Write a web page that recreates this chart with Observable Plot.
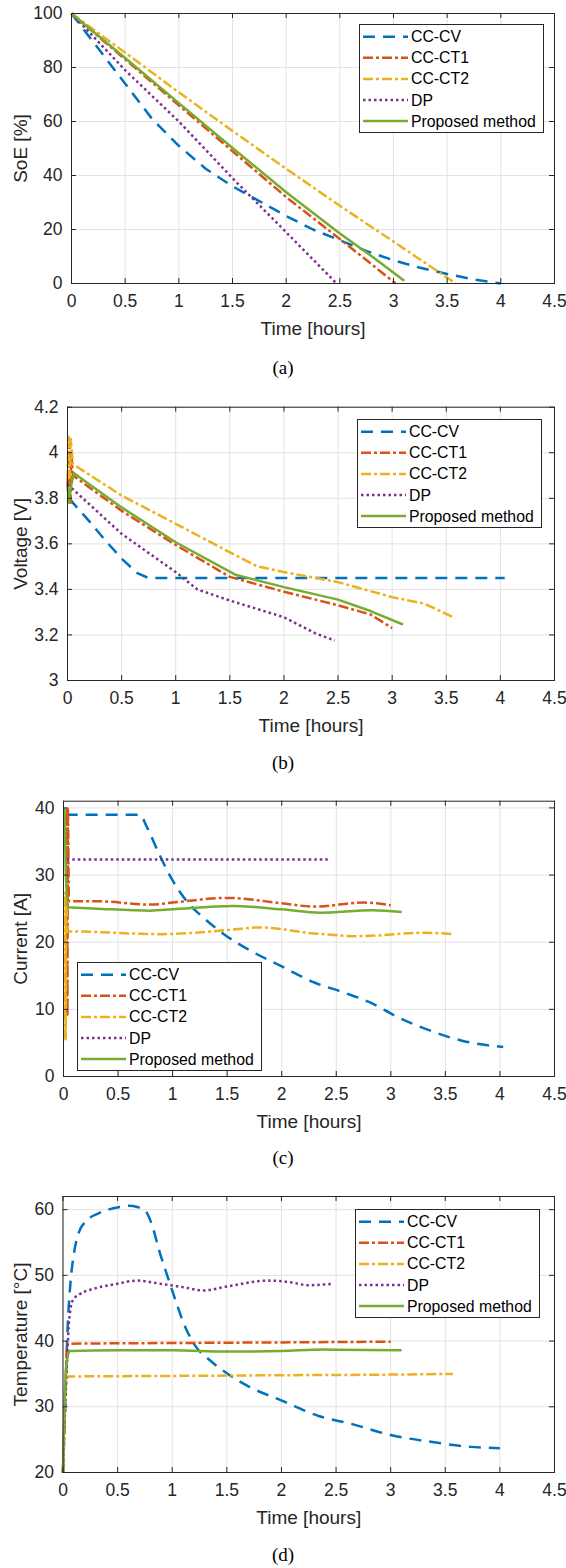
<!DOCTYPE html>
<html><head><meta charset="utf-8">
<script src="https://cdn.jsdelivr.net/npm/d3@7"></script>
<script src="https://cdn.jsdelivr.net/npm/@observablehq/plot@0.6"></script>
<style>
body{margin:0;background:#fff;}
#page{position:relative;width:566px;height:1568px;overflow:hidden;font-family:"Liberation Sans",Arial,sans-serif;}
.panel{position:absolute;left:0;}
.caption{position:absolute;left:0;width:566px;text-align:center;font-family:"Liberation Serif","Times New Roman",serif;font-size:19px;line-height:22px;color:#000;}
.legend{position:absolute;background:#fff;border:1px solid #262626;box-sizing:border-box;}
.legend svg{display:block;}
</style></head><body><div id="page"></div>
<script>
// ---------- shared ----------
const seriesNames = ["CC-CV", "CC-CT1", "CC-CT2", "DP", "Proposed method"];
const xTicks = [0, 0.5, 1, 1.5, 2, 2.5, 3, 3.5, 4, 4.5];

// ---------- (a) SoE [%] ----------
const soeTimes = [
  [0, 0.1, 0.25, 0.5, 0.75, 1, 1.25, 1.5, 1.75, 2, 2.25, 2.5, 2.75, 3, 3.25, 3.5, 3.75, 4],
  [0, 0.5, 1, 1.5, 2, 2.5, 2.8, 3.02],
  [0, 0.5, 1, 1.5, 2, 2.5, 3, 3.58],
  [0, 0.25, 0.5, 1, 1.5, 2, 2.47],
  [0, 0.5, 1, 1.5, 2, 2.5, 2.8, 3.1]
];
const soeValues = [
  [100, 94.8, 87, 74, 61, 51, 42.5, 36, 30.5, 25, 20, 16, 12, 8.6, 5.8, 3.5, 1.5, 0],
  [100, 83, 66, 49, 32, 16.5, 7, 0],
  [100, 85.5, 70.8, 56.5, 42.5, 28.8, 15.5, 0],
  [100, 89.5, 79, 60, 39, 19, 0],
  [100, 83.5, 66.8, 50.2, 33.8, 18.5, 10, 1]
];
const soeTicks = [0, 20, 40, 60, 80, 100];

// ---------- (b) Voltage [V] ----------
const voltTimes = [
  [0.02, 0.05, 0.2, 0.35, 0.5, 0.65, 0.75, 4.04],
  [0, 0.02, 0.03, 0.035, 0.05, 0.5, 1, 1.5, 2, 2.5, 2.8, 3.0],
  [0, 0.01, 0.02, 0.03, 0.05, 0.5, 1, 1.5, 1.75, 2, 2.5, 3, 3.3, 3.58],
  [0, 0.05, 0.5, 1, 1.2, 1.5, 2, 2.3, 2.47],
  [0, 0.015, 0.03, 0.06, 0.5, 1, 1.55, 2, 2.5, 2.8, 3.1]
];
const voltValues = [
  [3.80, 3.78, 3.70, 3.615, 3.535, 3.47, 3.45, 3.45],
  [3.85, 4.04, 3.78, 4.0, 3.90, 3.745, 3.595, 3.455, 3.39, 3.33, 3.29, 3.23],
  [3.88, 4.07, 3.89, 4.06, 3.95, 3.812, 3.688, 3.563, 3.502, 3.476, 3.432, 3.366, 3.337, 3.275],
  [3.86, 3.84, 3.644, 3.476, 3.40, 3.351, 3.278, 3.205, 3.176],
  [3.85, 3.78, 3.85, 3.91, 3.76, 3.607, 3.465, 3.41, 3.355, 3.305, 3.246]
];
const voltTicks = [3, 3.2, 3.4, 3.6, 3.8, 4, 4.2];

// ---------- (c) Current [A] ----------
const currTimes = [
  [0.02, 0.7, 0.76, 0.88, 1, 1.14, 1.28, 1.47, 1.74, 2, 2.3, 2.57, 2.8, 3.07, 3.4, 3.66, 4.03],
  [0.03, 0.033, 0.036, 0.04, 0.05, 0.3, 0.8, 1, 1.5, 2, 2.3, 2.75, 3],
  [0.012, 0.016, 0.02, 0.024, 0.035, 0.05, 0.9, 1.5, 1.8, 2.3, 2.7, 3.3, 3.58],
  [0.03, 0.5, 1, 1.5, 2, 2.45],
  [0.01, 0.02, 0.04, 0.3, 0.8, 1, 1.55, 2, 2.35, 2.83, 3.1]
];
const currValues = [
  [39, 39, 37.3, 33, 29.2, 25.9, 23.7, 21.2, 18.5, 16.4, 14, 12.5, 11.1, 8.8, 6.6, 5.3, 4.4],
  [9, 40, 9, 40, 26.1, 26.1, 25.6, 25.9, 26.6, 25.8, 25.3, 25.9, 25.5],
  [5.5, 27.4, 5.5, 27.4, 21.6, 21.6, 21.2, 21.8, 22.2, 21.3, 20.9, 21.4, 21.2],
  [32.3, 32.3, 32.3, 32.3, 32.3, 32.3],
  [40, 31, 25.2, 25.0, 24.7, 24.9, 25.4, 24.9, 24.4, 24.75, 24.5]
];
const currTicks = [0, 10, 20, 30, 40];

// ---------- (d) Temperature [°C] ----------
const tempTimes = [
  [0, 0.02, 0.04, 0.07, 0.1, 0.14, 0.22, 0.32, 0.52, 0.6, 0.68, 0.75, 0.82, 0.88, 0.95, 1.02, 1.12, 1.21, 1.35, 1.51, 1.71, 2.01, 2.34, 2.64, 3, 3.4, 3.73, 4],
  [0, 0.02, 0.04, 1, 2, 3],
  [0, 0.015, 0.03, 1, 2, 3, 3.57],
  [0, 0.02, 0.04, 0.056, 0.09, 0.16, 0.29, 0.49, 0.68, 0.9, 1.1, 1.28, 1.5, 1.88, 2.1, 2.24, 2.46],
  [0, 0.01, 0.03, 0.06, 0.5, 1, 1.5, 2, 2.4, 3.1]
];
const tempValues = [
  [20, 30, 41, 49.2, 53.3, 56.3, 58.4, 59.4, 60.4, 60.6, 60.4, 59.9, 57.4, 53.8, 50.2, 46.7, 42.1, 39.3, 37, 35, 33, 30.9, 28.6, 27.4, 25.7, 24.6, 23.9, 23.7],
  [20, 32, 39.6, 39.7, 39.8, 39.9],
  [20, 28, 34.6, 34.7, 34.8, 34.9, 35],
  [20, 30, 38, 43.1, 46.2, 47.2, 48, 48.7, 49.2, 48.7, 48.2, 47.7, 48.3, 49.2, 48.9, 48.5, 48.7],
  [20, 28, 36, 38.5, 38.6, 38.6, 38.4, 38.5, 38.7, 38.6]
];
const tempTicks = [20, 30, 40, 50, 60];

// ---------- styles ----------
const colors = ["#0072BD", "#D95319", "#EDB120", "#7E2F8E", "#77AC30"];
const dashes = ["12,8", "10,3,3,3", "10,3,3,3", "2.5,3", null];
const lineW = 2.5;
const gridColor = "#e2e2e2";
const axisColor = "#262626";
const fmt = d => String(d);

const panels = [
  {top: 0, height: 345, mt: 13, mb: 62, ml: 71, yDomain: [0, 100], yTicks: soeTicks,
   times: soeTimes, values: soeValues, ylabel: "SoE [%]", curve: "linear",
   legend: {left: 359, top: 24}, caption: "(a)", capY: 368},
  {top: 393, height: 345, mt: 13.7, mb: 58, ml: 67, yDomain: [3, 4.2], yTicks: voltTicks,
   times: voltTimes, values: voltValues, ylabel: "Voltage [V]", curve: "linear",
   legend: {left: 357, top: 419}, caption: "(b)", capY: 763},
  {top: 787, height: 345, mt: 13.7, mb: 56, ml: 63, yDomain: [0, 41], yTicks: currTicks,
   times: currTimes, values: currValues, ylabel: "Current [A]", curve: "monotone-x",
   legend: {left: 77, top: 962}, caption: "(c)", capY: 1158},
  {top: 1183, height: 345, mt: 13, mb: 56, ml: 62.5, yDomain: [20, 62], yTicks: tempTicks,
   times: tempTimes, values: tempValues, ylabel: "Temperature [°C]", curve: "monotone-x",
   legend: {left: 355, top: 1209}, caption: "(d)", capY: 1555}
];

const page = document.getElementById("page");
const W = 566, MR = 12, TICK = 5;

for (const p of panels) {
  const innerW = W - p.ml - MR;
  const innerH = p.height - p.mt - p.mb;
  const lineMarks = seriesNames.map((name, i) => {
    const rows = p.times[i].map((t, j) => ({t, v: p.values[i][j]}));
    return Plot.line(rows, {x: "t", y: "v", stroke: colors[i], strokeWidth: lineW,
      strokeDasharray: dashes[i] ?? undefined, curve: p.curve, strokeLinecap: "butt", strokeLinejoin: "round"});
  });
  const svg = Plot.plot({
    width: W, height: p.height,
    marginTop: p.mt, marginBottom: p.mb, marginLeft: p.ml, marginRight: MR,
    x: {domain: [0, 4.5], label: null},
    y: {domain: p.yDomain, label: null},
    style: {fontFamily: "'Liberation Sans', Arial, sans-serif", fontSize: "17.5px", color: axisColor, background: "transparent", overflow: "visible"},
    marks: [
      Plot.ruleX(xTicks, {stroke: gridColor, strokeWidth: 1}),
      Plot.ruleY(p.yTicks, {stroke: gridColor, strokeWidth: 1}),
      ...lineMarks,
      Plot.frame({stroke: axisColor, strokeWidth: 1}),
      Plot.ruleX(xTicks, {stroke: axisColor, insetTop: innerH - TICK}),
      Plot.ruleX(xTicks, {stroke: axisColor, insetBottom: innerH - TICK}),
      Plot.ruleY(p.yTicks, {stroke: axisColor, insetRight: innerW - TICK}),
      Plot.ruleY(p.yTicks, {stroke: axisColor, insetLeft: innerW - TICK}),
      Plot.axisX({ticks: xTicks, tickSize: 0, tickPadding: 11, tickFormat: fmt, label: null}),
      Plot.axisY({ticks: p.yTicks, tickSize: 0, tickPadding: 9, tickFormat: fmt, label: null}),
      Plot.text(["Time [hours]"], {text: d => d, frameAnchor: "bottom", dy: 45, fontSize: 19, lineAnchor: "middle", fill: axisColor}),
      Plot.text([p.ylabel], {text: d => d, frameAnchor: "left", dx: 20 - p.ml, rotate: -90, fontSize: 19, lineAnchor: "middle", textAnchor: "middle", fill: axisColor})
    ]
  });
  const holder = document.createElement("div");
  holder.className = "panel";
  holder.style.top = p.top + "px";
  holder.appendChild(svg);
  page.appendChild(holder);

  // legend
  const lg = document.createElement("div");
  lg.className = "legend";
  const LW = 185, LH = 109;
  lg.style.left = p.legend.left + "px";
  lg.style.top = p.legend.top + "px";
  lg.style.width = LW + "px";
  lg.style.height = LH + "px";
  const s = d3.create("svg").attr("width", LW - 2).attr("height", LH - 2);
  seriesNames.forEach((name, i) => {
    const y = 11.7 + i * 21.1;
    s.append("line").attr("x1", 3).attr("x2", 48).attr("y1", y).attr("y2", y)
      .attr("stroke", colors[i]).attr("stroke-width", lineW)
      .attr("stroke-dasharray", dashes[i] || null);
    s.append("text").attr("x", 51).attr("y", y).attr("dy", "0.35em")
      .attr("font-family", "'Liberation Sans', Arial, sans-serif")
      .attr("font-size", 15.8).attr("fill", "#000").text(name);
  });
  lg.appendChild(s.node());
  page.appendChild(lg);

  // caption
  const cap = document.createElement("div");
  cap.className = "caption";
  cap.style.top = (p.capY - 11) + "px";
  cap.textContent = p.caption;
  page.appendChild(cap);
}
</script></body></html>
